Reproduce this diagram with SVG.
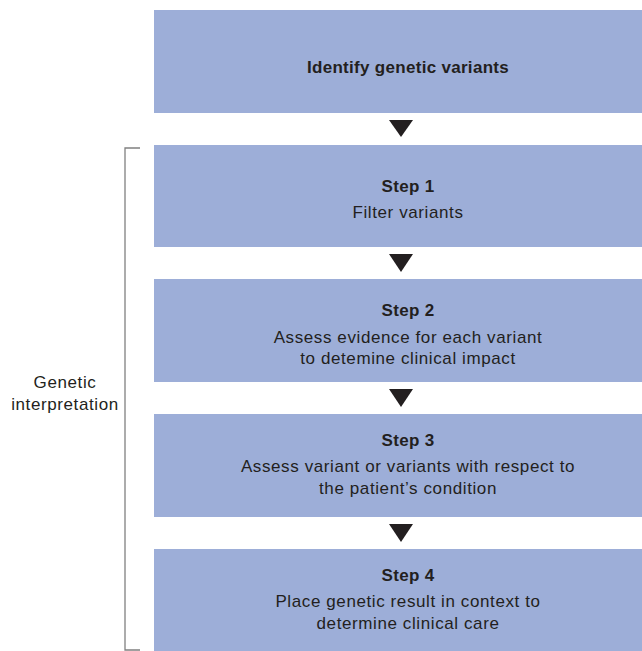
<svg xmlns="http://www.w3.org/2000/svg" width="642" height="651" viewBox="0 0 642 651">
<style>
.box{fill:#9daed8}
.t{font-family:"Liberation Sans",Arial,sans-serif;font-size:17px;fill:#231f20;text-anchor:middle;letter-spacing:0.6px}
.b{font-weight:bold;letter-spacing:0.3px}
.arr{fill:#231f20}
</style>
<rect width="642" height="651" fill="#fff"/>
<g id="identify"><rect class="box" x="154" y="10" width="488" height="103"/><text class="t b" x="408" y="73">Identify genetic variants</text></g>
<g id="step1"><rect class="box" x="154" y="145" width="488" height="102"/><text class="t b" x="408" y="192">Step 1</text><text class="t" x="408" y="218">Filter variants</text></g>
<g id="step2"><rect class="box" x="154" y="279" width="488" height="103"/><text class="t b" x="408" y="316">Step 2</text><text class="t" x="408" y="343">Assess evidence for each variant</text><text class="t" x="408" y="364">to detemine clinical impact</text></g>
<g id="step3"><rect class="box" x="154" y="414" width="488" height="103"/><text class="t b" x="408" y="446">Step 3</text><text class="t" x="408" y="472">Assess variant or variants with respect to</text><text class="t" x="408" y="494">the patient’s condition</text></g>
<g id="step4"><rect class="box" x="154" y="549" width="488" height="102"/><text class="t b" x="408" y="581">Step 4</text><text class="t" x="408" y="607">Place genetic result in context to</text><text class="t" x="408" y="629">determine clinical care</text></g>
<g id="connectors">
<polygon class="arr" points="389,120 413,120 401,137"/>
<polygon class="arr" points="389,254 413,254 401,272"/>
<polygon class="arr" points="389,389 413,389 401,407"/>
<polygon class="arr" points="389,524 413,524 401,542"/>
</g>
<g id="bracket"><path d="M140,148 H125 V650 H140" fill="none" stroke="#808080" stroke-width="1.3"/><text class="t" x="65" y="388">Genetic</text><text class="t" x="65" y="410">interpretation</text></g>
</svg>
